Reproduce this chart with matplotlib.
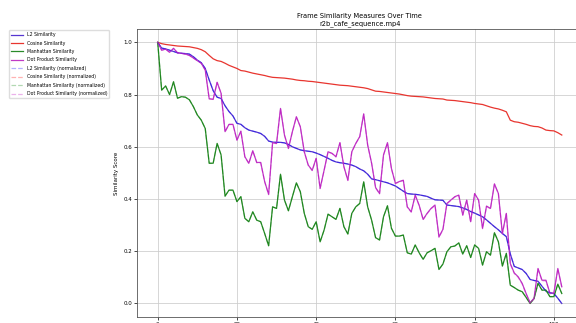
import numpy as np
import matplotlib
matplotlib.use("Agg")
import matplotlib.pyplot as plt

# frame index 0..102
frames = list(range(103))

l2_sim = [1.0, 0.978, 0.975, 0.97, 0.965, 0.96, 0.958, 0.957, 0.955, 0.945,
          0.932, 0.922, 0.9, 0.856, 0.815, 0.79, 0.785, 0.757, 0.735, 0.718,
          0.69, 0.686, 0.673, 0.664, 0.66, 0.656, 0.651, 0.64, 0.622, 0.618,
          0.617, 0.617, 0.615, 0.609, 0.6, 0.594, 0.588, 0.585, 0.583, 0.581,
          0.576, 0.57, 0.563, 0.556, 0.548, 0.542, 0.539, 0.537, 0.534, 0.53,
          0.524, 0.515, 0.508, 0.495, 0.477, 0.474, 0.47, 0.466, 0.462, 0.456,
          0.45, 0.44, 0.43, 0.421, 0.419, 0.418, 0.416, 0.413, 0.41, 0.403,
          0.397, 0.396, 0.395, 0.377, 0.375, 0.373, 0.371, 0.366, 0.36, 0.352,
          0.346, 0.339, 0.332, 0.32, 0.307, 0.294, 0.282, 0.268, 0.256, 0.19,
          0.142, 0.136, 0.13, 0.115, 0.092, 0.088, 0.085, 0.066, 0.047, 0.041,
          0.038, 0.02, 0.0]

cos_sim = [1.0, 0.995, 0.992, 0.99, 0.988, 0.986, 0.985, 0.984, 0.983, 0.98,
           0.977, 0.972, 0.964, 0.95, 0.937, 0.93, 0.927, 0.92, 0.912, 0.906,
           0.9, 0.892, 0.89, 0.886, 0.882, 0.879, 0.876, 0.873, 0.869, 0.866,
           0.865, 0.864, 0.863, 0.861, 0.859, 0.856, 0.854, 0.853, 0.851, 0.85,
           0.848, 0.846, 0.844, 0.842, 0.84, 0.838, 0.836, 0.835, 0.834, 0.832,
           0.83, 0.828, 0.826, 0.823, 0.818, 0.813, 0.812, 0.81, 0.808, 0.806,
           0.804, 0.802, 0.799, 0.796, 0.794, 0.793, 0.792, 0.791, 0.789, 0.787,
           0.785, 0.784, 0.783, 0.779, 0.778, 0.777, 0.775, 0.773, 0.771, 0.769,
           0.766, 0.764, 0.762, 0.757, 0.752, 0.748, 0.745, 0.74, 0.734, 0.702,
           0.696, 0.694, 0.69, 0.686, 0.681, 0.678, 0.677, 0.672, 0.664, 0.662,
           0.661, 0.654, 0.645]

man_sim = [1.0, 0.817, 0.833, 0.8, 0.849, 0.786, 0.792, 0.79, 0.78, 0.754,
           0.722, 0.702, 0.67, 0.537, 0.537, 0.613, 0.569, 0.411, 0.434, 0.434,
           0.39, 0.409, 0.326, 0.313, 0.351, 0.319, 0.313, 0.268, 0.221, 0.37,
           0.364, 0.495, 0.396, 0.355, 0.409, 0.462, 0.428, 0.345, 0.294, 0.284,
           0.313, 0.236, 0.281, 0.342, 0.332, 0.322, 0.364, 0.294, 0.266, 0.345,
           0.37, 0.383, 0.466, 0.37, 0.319, 0.252, 0.243, 0.332, 0.374, 0.288,
           0.258, 0.258, 0.262, 0.194, 0.189, 0.224, 0.194, 0.169, 0.194, 0.202,
           0.211, 0.13, 0.151, 0.198, 0.217, 0.22, 0.232, 0.189, 0.221, 0.176,
           0.224, 0.211, 0.147, 0.198, 0.185, 0.271, 0.236, 0.143, 0.192, 0.07,
           0.061, 0.051, 0.045, 0.023, 0.0, 0.019, 0.077, 0.051, 0.051, 0.026,
           0.026, 0.074, 0.038]

dot_sim = [1.0, 0.97, 0.974, 0.962, 0.977, 0.96, 0.958, 0.955, 0.95, 0.94,
           0.93, 0.92, 0.894, 0.784, 0.782, 0.847, 0.805, 0.658, 0.686, 0.686,
           0.626, 0.66, 0.562, 0.537, 0.585, 0.54, 0.54, 0.467, 0.418, 0.616,
           0.613, 0.747, 0.645, 0.594, 0.658, 0.715, 0.677, 0.581, 0.53, 0.51,
           0.556, 0.441, 0.51, 0.581, 0.575, 0.562, 0.616, 0.524, 0.472, 0.581,
           0.613, 0.639, 0.726, 0.607, 0.537, 0.444, 0.421, 0.569, 0.616, 0.517,
           0.46, 0.467, 0.472, 0.37, 0.351, 0.415, 0.376, 0.322, 0.345, 0.364,
           0.377, 0.255, 0.284, 0.383, 0.396, 0.409, 0.415, 0.339, 0.396, 0.313,
           0.421, 0.396, 0.288, 0.373, 0.364, 0.458, 0.421, 0.268, 0.345, 0.153,
           0.117, 0.102, 0.077, 0.038, 0.003, 0.02, 0.134, 0.089, 0.089, 0.04,
           0.04, 0.134, 0.064]

def norm(v):
    v = np.array(v)
    return (v - v.min()) / (v.max() - v.min())

fig = plt.figure(figsize=(5.76, 3.23), dpi=100)
ax = fig.add_axes([0.2387, 0.0201, 0.7717, 0.8892])

lw = 0.9
ax.plot(frames, l2_sim, color="#5636d0", lw=lw, label="L2 Similarity")
ax.plot(frames, cos_sim, color="#e8352f", lw=lw, label="Cosine Similarity")
ax.plot(frames, man_sim, color="#2a8a2a", lw=lw, label="Manhattan Similarity")
ax.plot(frames, dot_sim, color="#c03ac6", lw=lw, label="Dot Product Similarity")

# normalized versions, faint dashed (they sit under the solid lines)
ax.plot(frames, norm(l2_sim), color="blue", ls="--", lw=lw, alpha=0.3,
        label="L2 Similarity (normalized)")
cos_line, = ax.plot(frames, norm(cos_sim), color="red", ls="--", lw=lw, alpha=0.3,
                    label="Cosine Similarity (normalized)")
cos_line.set_ydata(np.full(len(frames), np.nan))  # not shown in the picture
ax.plot(frames, norm(man_sim), color="green", ls="--", lw=lw, alpha=0.3,
        label="Manhattan Similarity (normalized)")
ax.plot(frames, norm(dot_sim), color="m", ls="--", lw=lw, alpha=0.3,
        label="Dot Product Similarity (normalized)")

ax.set_title("Frame Similarity Measures Over Time\nr2b_cafe_sequence.mp4",
             fontsize=4.8, pad=3)
ax.set_ylabel("Similarity Score", fontsize=4, labelpad=3)
ax.set_xlabel("Frame", fontsize=4)
ax.tick_params(labelsize=4, length=2, width=0.5, pad=2)
ax.grid(True, color="#cccccc", lw=0.7, alpha=0.8)
for s in ax.spines.values():
    s.set_linewidth(0.6)
    s.set_color("#555555")

fig.legend(loc="upper left", bbox_to_anchor=(7 / 576, 1 - 28 / 323),
           fontsize=3.3, frameon=True, handlelength=2.6, labelspacing=0.75,
           framealpha=1, edgecolor="#dddddd", fancybox=True)

fig.savefig("out.png", dpi=100)
